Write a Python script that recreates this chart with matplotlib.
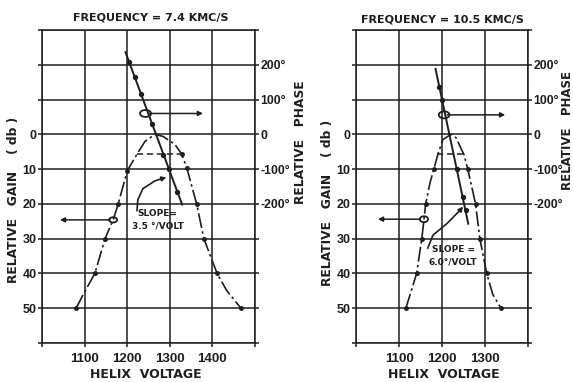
import matplotlib
matplotlib.use("Agg")
import matplotlib.pyplot as plt
from matplotlib.patches import Ellipse

# ---- data ----
# left panel, f = 7.4 kMc/s
volt_a = [1080, 1097, 1124, 1148, 1167, 1179, 1200, 1223, 1242, 1265, 1284, 1312, 1328, 1340, 1363, 1380, 1411, 1434, 1467]
gain_a = [50, 46, 40, 30, 24.6, 20, 10.5, 5.7, 2, 0, 0.6, 2.9, 5.7, 9.7, 20, 30, 40, 45, 50]
gdot_volt_a = [1080, 1124, 1148, 1179, 1200, 1328, 1340, 1363, 1380, 1411, 1467]
gdot_gain_a = [50, 40, 30, 20, 10.5, 5.7, 9.7, 20, 30, 40, 50]
phline_volt_a = [1196, 1329]
phline_a = [236, -202]
phdot_volt_a = [1205, 1218, 1232, 1259, 1285, 1298, 1318]
phdot_a = [207, 165, 117, 29, -58, -100, -167]

# right panel, f = 10.5 kMc/s
volt_b = [1116, 1126, 1141, 1153, 1158, 1162, 1172, 1181, 1191, 1202, 1221, 1233, 1244, 1251, 1260, 1278, 1288, 1304, 1318, 1337]
gain_b = [50, 46, 40, 30, 24.6, 20, 14, 10, 5.5, 1.5, 0, 1, 4, 5.8, 10, 20, 30, 40, 46, 50]
gdot_volt_b = [1116, 1141, 1153, 1162, 1181, 1260, 1278, 1288, 1304, 1337]
gdot_gain_b = [50, 40, 30, 20, 10, 10, 20, 30, 40, 50]
phline_volt_b = [1185, 1261]
phline_b = [188, -257]
phdot_volt_b = [1194, 1200, 1234, 1248, 1255]
phdot_b = [136, 100, -100, -181, -219]

ink = "#1e1e1e"
W, H = 573, 382
fig = plt.figure(figsize=(W / 100, H / 100), dpi=100)
fig.patch.set_facecolor("white")


def fx(px):
    return px / W


def fy(py):
    return 1 - py / H


def bold(labels):
    for lab in labels:
        lab.set_fontweight("bold")


def panel(rect, xmax, xt):
    ax = fig.add_axes(rect)
    ax.set_xlim(1000, xmax)
    ax.set_ylim(60, -30)
    ax.set_xticks(xt)
    ax.set_xticklabels(["" if (v == 1000 or v == xmax) else str(v) for v in xt])
    yt = list(range(-30, 61, 10))
    ax.set_yticks(yt)
    ax.set_yticklabels([str(v) if 0 <= v <= 50 else "" for v in yt])
    ax.grid(True, color=ink, lw=1.1)
    for s in ax.spines.values():
        s.set_color(ink)
        s.set_linewidth(1.1)
    ax.tick_params(direction="out", length=3, width=1.1, color=ink, pad=1,
                   labelcolor=ink, labelfontfamily="Liberation Sans")
    ax.tick_params(axis="x", pad=4, labelsize=9.5)
    ax.tick_params(axis="y", labelsize=9)
    bold(ax.get_xticklabels() + ax.get_yticklabels())

    axp = ax.twinx()
    axp.set_ylim(-600, 300)
    pt = list(range(-600, 301, 100))
    axp.set_yticks(pt)
    names = {200: "200°", 100: "100°", 0: "0", -100: "-100°", -200: "-200°"}
    axp.set_yticklabels([names.get(v, "") for v in pt])
    axp.tick_params(direction="out", length=3, width=1.1, color=ink, pad=1,
                    labelcolor=ink, labelsize=8.8, labelfontfamily="Liberation Sans")
    bold(axp.get_yticklabels())
    for s in axp.spines.values():
        s.set_visible(False)
    return ax, axp


ax1, ap1 = panel([fx(42), fy(343), fx(255) - fx(42), fy(30) - fy(343)], 1500,
                 [1000, 1100, 1200, 1300, 1400, 1500])
ax2, ap2 = panel([fx(356), fy(343), fx(528) - fx(356), fy(30) - fy(343)], 1400,
                 [1000, 1100, 1200, 1300, 1400])

dashdot = (0, (9, 2, 1.5, 2))
arrow = dict(arrowstyle="-|>", color=ink, lw=1.1, mutation_scale=7, shrinkA=0, shrinkB=0)

for ax, axp, v, g, dv, dg, pv, p, pdv, pd in [
    (ax1, ap1, volt_a, gain_a, gdot_volt_a, gdot_gain_a, phline_volt_a, phline_a, phdot_volt_a, phdot_a),
    (ax2, ap2, volt_b, gain_b, gdot_volt_b, gdot_gain_b, phline_volt_b, phline_b, phdot_volt_b, phdot_b),
]:
    ax.plot(v, g, color=ink, lw=1.2, ls=dashdot)
    ax.plot(dv, dg, "o", color=ink, ms=2.5)
    axp.plot(pv, p, color=ink, lw=1.4)
    axp.plot(pdv, pd, "o", color=ink, ms=2.8)

# dashed -6 db level
ax1.plot([1223, 1329], [5.7, 5.7], color=ink, lw=1.1, ls=(0, (4, 2.5)))
ax2.plot([1188, 1253], [5.7, 5.7], color=ink, lw=1.1, ls=(0, (4, 2.5)))

# identifying circles with arrows
ax1.add_patch(Ellipse((1243, -6), 26, 2.0, fill=False, ec=ink, lw=1.3))
ax1.annotate("", xy=(1378, -6), xytext=(1250, -6), arrowprops=arrow)
ax1.add_patch(Ellipse((1167, 24.6), 19, 1.5, fill=False, ec=ink, lw=1.3))
ax1.annotate("", xy=(1042, 24.6), xytext=(1160, 24.6), arrowprops=arrow)
ax2.add_patch(Ellipse((1205, -5.6), 25, 2.0, fill=False, ec=ink, lw=1.3))
ax2.annotate("", xy=(1347, -5.6), xytext=(1212, -5.6), arrowprops=arrow)
ax2.add_patch(Ellipse((1158, 24.4), 19, 1.7, fill=False, ec=ink, lw=1.3))
ax2.annotate("", xy=(1051, 24.4), xytext=(1150, 24.4), arrowprops=arrow)

# slope leaders
ax1.plot([1223, 1225, 1237, 1265, 1282], [21.9, 18.8, 15.6, 13.4, 12.7], color=ink, lw=1.2)
ax1.annotate("", xy=(1292, 12.4), xytext=(1280, 12.8), arrowprops=arrow)
ax2.plot([1167, 1179, 1212, 1235, 1243], [32.7, 29, 25.6, 22.7, 21.6], color=ink, lw=1.2)
ax2.annotate("", xy=(1249, 20.8), xytext=(1241, 22), arrowprops=arrow)

tk = dict(color=ink, fontweight="bold", ha="center", va="center")
ax1.text(1270, 22.7, "SLOPE=", fontsize=6.5, **tk)
ax1.text(1272, 26.4, "3.5 °/VOLT", fontsize=6.5, **tk)
ax2.text(1226, 33.2, "SLOPE =", fontsize=6.5, **tk)
ax2.text(1226, 36.6, "6.0°/VOLT", fontsize=6.5, **tk)

# titles and axis names
lab = dict(color=ink, fontweight="bold", ha="center", va="center")
fig.text(fx(151), fy(18), "FREQUENCY = 7.4 KMC/S", fontsize=8, **lab)
fig.text(fx(442), fy(19), "FREQUENCY = 10.5 KMC/S", fontsize=8, **lab)
fig.text(fx(146), fy(375), "HELIX  VOLTAGE", fontsize=9, **lab)
fig.text(fx(444), fy(374), "HELIX  VOLTAGE", fontsize=9, **lab)
fig.text(fx(14), fy(200), "RELATIVE   GAIN    ( db )", fontsize=8.8, rotation=90, **lab)
fig.text(fx(327), fy(203), "RELATIVE   GAIN    ( db )", fontsize=8.8, rotation=90, **lab)
fig.text(fx(300), fy(142), "RELATIVE   PHASE", fontsize=8.8, rotation=90, **lab)
fig.text(fx(567.5), fy(131), "RELATIVE   PHASE", fontsize=8.5, rotation=90, **lab)

fig.savefig("out.png", dpi=100, facecolor="white")
